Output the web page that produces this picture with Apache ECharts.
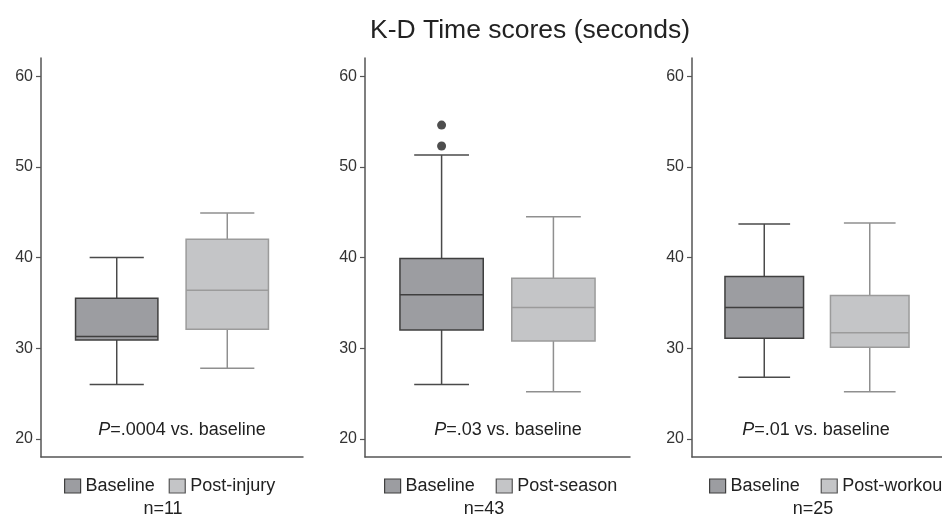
<!DOCTYPE html>
<html>
<head>
<meta charset="utf-8">
<script src="https://cdn.jsdelivr.net/npm/echarts@6/dist/echarts.min.js"></script>
<style>html,body{margin:0;padding:0;background:#fff;}#c{width:942px;height:515px;}</style>
</head>
<body>
<div id="c"></div>
<script>
// ---- data ----
const titleText = 'K-D Time scores (seconds)';
const yTicks = [20, 30, 40, 50, 60];
const panel1Categories = ['Baseline', 'Post-injury'];
const panel2Categories = ['Baseline', 'Post-season'];
const panel3Categories = ['Baseline', 'Post-workout'];
// [low whisker, Q1, median, Q3, high whisker]
const panel1Baseline = [26.0, 30.9, 31.3, 35.5, 40.0];
const panel1Post     = [27.8, 32.1, 36.4, 42.0, 44.9];
const panel2Baseline = [26.0, 32.0, 35.9, 39.9, 51.3];
const panel2Post     = [25.2, 30.8, 34.5, 37.7, 44.5];
const panel2Outliers = [54.6, 52.3];
const panel3Baseline = [26.8, 31.1, 34.5, 37.9, 43.7];
const panel3Post     = [25.2, 30.1, 31.7, 35.8, 43.8];
const pTexts = ['.0004', '.03', '.01'];
const nTexts = ['n=11', 'n=43', 'n=25'];

// ---- styles / layout ----
const FONT = '"Liberation Sans", Arial, Helvetica, sans-serif';
const baseStyle = { fill: '#9c9da1', stroke: '#3f3f3f', whisker: '#4a4a4a' };
const postStyle = { fill: '#c4c5c7', stroke: '#9b9b9b', whisker: '#8f8f8f' };
const grids = [
  { left: 41, top: 58, width: 262, height: 399 },
  { left: 365, top: 58, width: 265, height: 399 },
  { left: 692, top: 58, width: 262, height: 399 }
];
const legendLefts = [59, 379, 704];
const legendGaps = [14, 21, 21];
const pCenters = [177, 503, 811];
const nCenters = [163, 484, 813];

const panels = [
  { cats: panel1Categories, boxes: [panel1Baseline, panel1Post], outliers: [] },
  { cats: panel2Categories, boxes: [panel2Baseline, panel2Post], outliers: panel2Outliers },
  { cats: panel3Categories, boxes: [panel3Baseline, panel3Post], outliers: [] }
];

function makeRender(st) {
  return function (params, api) {
    const x = api.value(0);
    const lo = api.value(1), q1 = api.value(2), med = api.value(3), q3 = api.value(4), hi = api.value(5);
    const cx = api.coord([x, med])[0];
    const y = v => api.coord([x, v])[1];
    const unit = api.size([1, 0])[0];
    const bw = unit * 0.745, cw = unit * 0.49;
    const line = (x1, y1, x2, y2, c) => ({
      type: 'line', shape: { x1, y1, x2, y2 },
      style: { stroke: c, lineWidth: 1.5 }
    });
    return {
      type: 'group',
      children: [
        line(cx, y(hi), cx, y(q3), st.whisker),
        line(cx, y(q1), cx, y(lo), st.whisker),
        line(cx - cw / 2, y(hi), cx + cw / 2, y(hi), st.whisker),
        line(cx - cw / 2, y(lo), cx + cw / 2, y(lo), st.whisker),
        { type: 'rect', shape: { x: cx - bw / 2, y: y(q3), width: bw, height: y(q1) - y(q3) },
          style: { fill: st.fill, stroke: st.stroke, lineWidth: 1.5 } },
        line(cx - bw / 2, y(med), cx + bw / 2, y(med), st.stroke)
      ]
    };
  };
}

const option = {
  backgroundColor: '#fff',
  animation: false,
  title: [
    { text: titleText, left: 525, textAlign: 'center', top: 12,
      textStyle: { fontFamily: FONT, fontSize: 26.5, fontWeight: 'normal', color: '#222' } }
  ],
  grid: grids,
  xAxis: [],
  yAxis: [],
  legend: [],
  series: []
};

panels.forEach((p, i) => {
  option.xAxis.push({
    gridIndex: i, type: 'value', min: 0.315, max: 2.685,
    axisLine: { show: true, lineStyle: { color: '#555', width: 1.5 } },
    axisTick: { show: false }, axisLabel: { show: false }, splitLine: { show: false }
  });
  option.yAxis.push({
    gridIndex: i, type: 'value', min: 18, max: 62,
    axisLine: { show: true, lineStyle: { color: '#555', width: 1.5 } },
    axisTick: { show: true, length: 5, customValues: yTicks, lineStyle: { color: '#555', width: 1.2 } },
    axisLabel: { customValues: yTicks, fontFamily: FONT, fontSize: 16, color: '#333', margin: 8 },
    splitLine: { show: false }
  });
  [baseStyle, postStyle].forEach((st, k) => {
    option.series.push({
      type: 'custom', name: p.cats[k], xAxisIndex: i, yAxisIndex: i,
      itemStyle: { color: st.fill, borderColor: st.stroke },
      renderItem: makeRender(st),
      encode: { x: 0, y: [1, 2, 3, 4, 5] },
      data: [[k + 1].concat(p.boxes[k])]
    });
  });
  if (p.outliers.length) {
    option.series.push({
      type: 'scatter', xAxisIndex: i, yAxisIndex: i, symbolSize: 9,
      itemStyle: { color: '#222' },
      data: p.outliers.map(v => [1, v])
    });
  }
  option.legend.push({
    left: legendLefts[i], top: 472, width: 400, itemWidth: 16, itemHeight: 14, itemGap: legendGaps[i],
    icon: 'rect', selectedMode: false,
    textStyle: { fontFamily: FONT, fontSize: 18, color: '#222', padding: [0, 0, 0, 0] },
    data: [
      { name: p.cats[0], itemStyle: { color: baseStyle.fill, borderColor: '#3f3f3f', borderWidth: 1.2 } },
      { name: p.cats[1], itemStyle: { color: postStyle.fill, borderColor: '#555', borderWidth: 1.2 } }
    ]
  });
  option.title.push({
    text: '{i|P}=' + pTexts[i] + ' vs. baseline', left: pCenters[i], textAlign: 'center', top: 416,
    textStyle: { fontFamily: FONT, fontSize: 18, fontWeight: 'normal', color: '#222',
      rich: { i: { fontFamily: FONT, fontSize: 18, fontStyle: 'italic', color: '#222' } } }
  });
  option.title.push({
    text: nTexts[i], left: nCenters[i], textAlign: 'center', top: 500, padding: 0,
    textStyle: { fontFamily: FONT, fontSize: 18, fontWeight: 'normal', color: '#222' }
  });
});

const chart = echarts.init(document.getElementById('c'), null, { renderer: 'canvas' });
chart.setOption(option);
</script>
</body>
</html>
